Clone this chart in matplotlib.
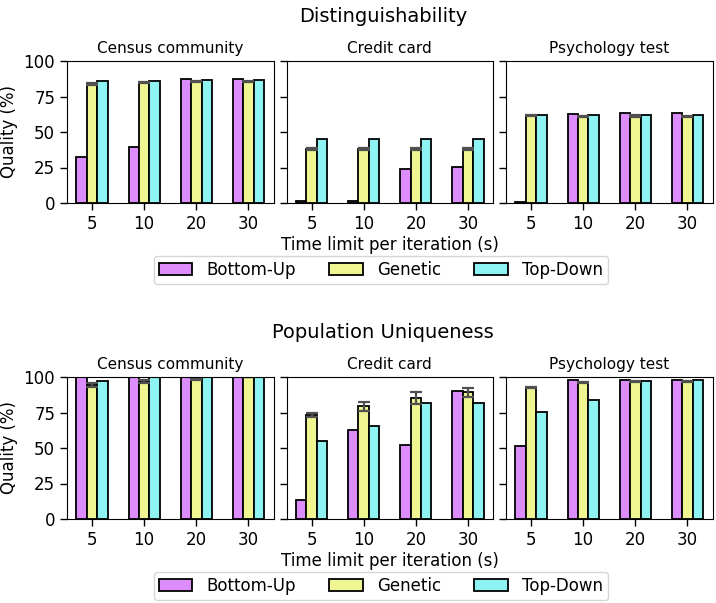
import numpy as np
import matplotlib
matplotlib.use("Agg")
import matplotlib.pyplot as plt

time_limits = ["5", "10", "20", "30"]
datasets = ["Census community", "Credit card", "Psychology test"]
methods = ["Bottom-Up", "Genetic", "Top-Down"]
colors = ["#dd8dfb", "#eff591", "#8df3f3"]

# Distinguishability, one list per dataset: [bottom-up, genetic, top-down] x time limit
dist_census = [[32.7, 39.7, 87.1, 87.1], [83.6, 84.8, 85.3, 85.5], [85.7, 86.0, 86.4, 86.7]]
dist_credit = [[1.2, 1.2, 24.1, 25.7], [37.9, 37.9, 38.0, 38.3], [45.3, 45.3, 45.3, 45.3]]
dist_psych = [[1.0, 62.6, 63.3, 63.5], [61.4, 60.9, 61.2, 61.0], [62.1, 62.1, 62.1, 62.1]]
dist_gen_err = [[0.6, 0.5, 0.3, 0.3], [0.8, 0.7, 0.7, 0.7], [0.3, 0.6, 0.5, 0.5]]

# Population uniqueness
uniq_census = [[100.0, 100.0, 100.0, 100.0], [94.6, 97.0, 98.6, 99.9], [97.0, 100.0, 100.0, 100.0]]
uniq_credit = [[13.4, 62.4, 51.8, 89.9], [73.4, 79.3, 85.2, 89.2], [55.1, 65.2, 81.6, 81.6]]
uniq_psych = [[51.5, 97.6, 97.9, 97.9], [92.7, 96.2, 96.9, 96.9], [75.3, 83.5, 97.4, 97.6]]
uniq_gen_err = [[1.3, 1.0, 0.7, 0.2], [1.5, 3.0, 4.5, 3.0], [0.5, 0.5, 0.4, 0.4]]

blocks = [
    ("Distinguishability", [dist_census, dist_credit, dist_psych], dist_gen_err, 61),
    ("Population Uniqueness", [uniq_census, uniq_credit, uniq_psych], uniq_gen_err, 377),
]

W, H = 716, 603
fig = plt.figure(figsize=(W / 100, H / 100), dpi=100)
lefts = [67, 286.5, 506]
ax_w, ax_h = 206.5, 142
x = np.arange(len(time_limits))
width = 0.2

for title, data, gen_err, top in blocks:
    fig.text(383 / W, 1 - (top - 45) / H, title, ha="center", va="center", fontsize=14)
    for i, (name, vals) in enumerate(zip(datasets, data)):
        ax = fig.add_axes([lefts[i] / W, 1 - (top + ax_h) / H, ax_w / W, ax_h / H])
        for k in range(3):
            err = gen_err[i] if k == 1 else None
            ax.bar(x + (k - 1) * width, vals[k], width, color=colors[k], edgecolor="black",
                   linewidth=1.3, label=methods[k], yerr=err, capsize=4,
                   error_kw=dict(ecolor="#505050", elinewidth=1.6, capthick=1.6))
        ax.set_ylim(0, 100)
        ax.set_yticks([0, 25, 50, 75, 100])
        ax.set_xticks(x)
        ax.set_xticklabels(time_limits)
        ax.tick_params(labelsize=12, length=5, width=1)
        ax.tick_params(axis="x", pad=3.5)
        ax.set_title(name, fontsize=11, pad=6)
        if i == 0:
            ax.set_ylabel("Quality (%)", fontsize=12)
        else:
            ax.set_yticklabels([])
        if i == 1:
            ax.set_xlabel("Time limit per iteration (s)", fontsize=12, labelpad=2)
            handles, labels = ax.get_legend_handles_labels()
    fig.legend(handles, labels, ncol=3, fontsize=12, loc="center",
               bbox_to_anchor=(381 / W, 1 - (top + 209) / H), handlelength=2.0,
               columnspacing=2.0, borderpad=0.3, handletextpad=0.85)

fig.savefig("out.png", dpi=100)
